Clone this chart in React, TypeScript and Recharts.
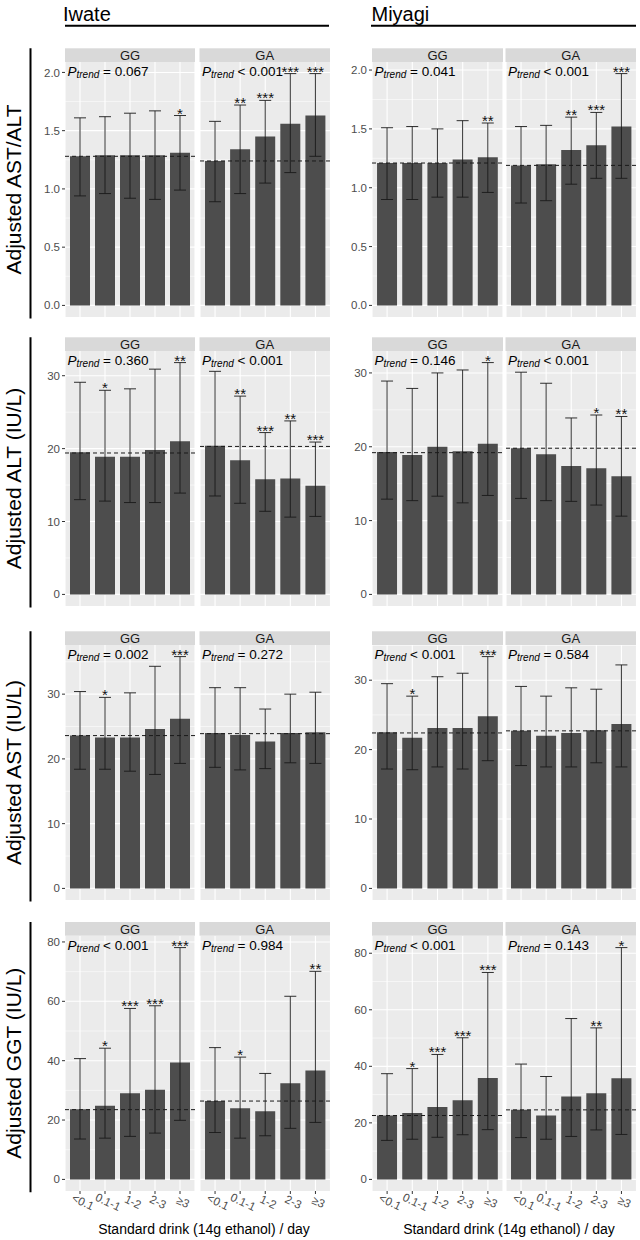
import React from "react";
import { ComposedChart, Bar, ErrorBar, XAxis, YAxis, CartesianGrid, ReferenceLine, Scatter } from "recharts";

const FONT = "'Liberation Sans', Arial, Helvetica, sans-serif";

const categories = ["<0.1", "0.1-1", "1-2", "2-3", "≥3"];
const regionNames = ["Iwate", "Miyagi"];
const genotypes = ["GG", "GA"];
const rowTitles = ["Adjusted AST/ALT", "Adjusted ALT (IU/L)", "Adjusted AST (IU/L)", "Adjusted GGT (IU/L)"];
const xTitle = "Standard drink (14g ethanol) / day";

const ratioTicks = [0, 0.5, 1, 1.5, 2];
const ratioMinor = [0.25, 0.75, 1.25, 1.75];
const altTicks = [0, 10, 20, 30];
const altMinor = [5, 15, 25];
const astTicks = [0, 10, 20, 30];
const astMinor = [5, 15, 25, 35];
const ggtTicks = [0, 20, 40, 60, 80];
const ggtMinor = [10, 30, 50, 70];

// ---- Row 1: AST/ALT ----
const iwRatioGGMean = [1.28, 1.29, 1.29, 1.29, 1.31];
const iwRatioGGLow = [0.94, 0.96, 0.92, 0.91, 0.99];
const iwRatioGGHigh = [1.61, 1.62, 1.65, 1.67, 1.63];
const iwRatioGGStars = ["", "", "", "", "*"];
const iwRatioGGRef = 1.28;
const iwRatioGGP = "= 0.067";

const iwRatioGAMean = [1.24, 1.34, 1.45, 1.56, 1.63];
const iwRatioGALow = [0.89, 0.96, 1.05, 1.14, 1.28];
const iwRatioGAHigh = [1.58, 1.72, 1.76, 1.99, 1.99];
const iwRatioGAStars = ["", "**", "***", "***", "***"];
const iwRatioGARef = 1.24;
const iwRatioGAP = "< 0.001";

const myRatioGGMean = [1.21, 1.21, 1.21, 1.24, 1.26];
const myRatioGGLow = [0.9, 0.9, 0.92, 0.92, 0.96];
const myRatioGGHigh = [1.51, 1.52, 1.5, 1.57, 1.55];
const myRatioGGStars = ["", "", "", "", "**"];
const myRatioGGRef = 1.21;
const myRatioGGP = "= 0.041";

const myRatioGAMean = [1.19, 1.2, 1.32, 1.36, 1.52];
const myRatioGALow = [0.87, 0.89, 1.03, 1.08, 1.08];
const myRatioGAHigh = [1.52, 1.53, 1.6, 1.64, 1.97];
const myRatioGAStars = ["", "", "**", "***", "***"];
const myRatioGARef = 1.19;
const myRatioGAP = "< 0.001";

// ---- Row 2: ALT ----
const iwAltGGMean = [19.5, 18.9, 18.9, 19.8, 21.0];
const iwAltGGLow = [13.0, 12.8, 12.6, 12.6, 13.9];
const iwAltGGHigh = [29.1, 28.0, 28.2, 30.9, 31.8];
const iwAltGGStars = ["", "*", "", "", "**"];
const iwAltGGRef = 19.4;
const iwAltGGP = "= 0.360";

const iwAltGAMean = [20.4, 18.4, 15.8, 15.9, 14.9];
const iwAltGALow = [13.5, 12.5, 11.4, 10.6, 10.7];
const iwAltGAHigh = [30.6, 27.2, 22.2, 23.8, 20.9];
const iwAltGAStars = ["", "**", "***", "**", "***"];
const iwAltGARef = 20.3;
const iwAltGAP = "< 0.001";

const myAltGGMean = [19.3, 18.9, 20.0, 19.4, 20.4];
const myAltGGLow = [12.9, 12.7, 13.3, 12.4, 13.4];
const myAltGGHigh = [28.9, 27.9, 30.0, 30.4, 31.4];
const myAltGGStars = ["", "", "", "", "*"];
const myAltGGRef = 19.2;
const myAltGGP = "= 0.146";

const myAltGAMean = [19.8, 19.0, 17.4, 17.1, 16.0];
const myAltGALow = [13.0, 12.7, 12.6, 12.1, 10.6];
const myAltGAHigh = [30.1, 28.6, 23.9, 24.3, 24.1];
const myAltGAStars = ["", "", "", "*", "**"];
const myAltGARef = 19.8;
const myAltGAP = "< 0.001";

// ---- Row 3: AST ----
const iwAstGGMean = [23.6, 23.3, 23.3, 24.6, 26.2];
const iwAstGGLow = [18.4, 18.4, 18.1, 17.6, 19.3];
const iwAstGGHigh = [30.4, 29.5, 30.2, 34.3, 35.8];
const iwAstGGStars = ["", "*", "", "", "***"];
const iwAstGGRef = 23.6;
const iwAstGGP = "= 0.002";

const iwAstGAMean = [24.0, 23.7, 22.7, 24.0, 24.1];
const iwAstGALow = [18.7, 18.3, 18.5, 19.4, 19.3];
const iwAstGAHigh = [31.0, 31.0, 27.7, 30.0, 30.3];
const iwAstGAStars = ["", "", "", "", ""];
const iwAstGARef = 23.9;
const iwAstGAP = "= 0.272";

const myAstGGMean = [22.5, 21.7, 23.1, 23.1, 24.8];
const myAstGGLow = [17.2, 17.1, 17.5, 17.2, 18.4];
const myAstGGHigh = [29.5, 27.7, 30.5, 31.0, 33.4];
const myAstGGStars = ["", "*", "", "", "***"];
const myAstGGRef = 22.4;
const myAstGGP = "< 0.001";

const myAstGAMean = [22.7, 22.0, 22.4, 22.8, 23.7];
const myAstGALow = [17.7, 17.5, 17.5, 18.1, 17.5];
const myAstGAHigh = [29.1, 27.7, 28.9, 28.7, 32.2];
const myAstGAStars = ["", "", "", "", ""];
const myAstGARef = 22.7;
const myAstGAP = "= 0.584";

// ---- Row 4: GGT ----
const iwGgtGGMean = [23.6, 24.8, 29.0, 30.2, 39.4];
const iwGgtGGLow = [13.6, 13.9, 14.5, 15.6, 19.9];
const iwGgtGGHigh = [40.7, 44.2, 57.6, 58.5, 78.1];
const iwGgtGGStars = ["", "*", "***", "***", "***"];
const iwGgtGGRef = 23.5;
const iwGgtGGP = "< 0.001";

const iwGgtGAMean = [26.4, 24.0, 23.0, 32.4, 36.7];
const iwGgtGALow = [15.8, 13.9, 14.7, 17.2, 19.2];
const iwGgtGAHigh = [44.4, 41.2, 35.7, 61.7, 70.1];
const iwGgtGAStars = ["", "*", "", "", "**"];
const iwGgtGARef = 26.4;
const iwGgtGAP = "= 0.984";

const myGgtGGMean = [22.6, 23.5, 25.6, 28.0, 35.9];
const myGgtGGLow = [13.8, 14.2, 14.9, 15.8, 17.6];
const myGgtGGHigh = [37.4, 39.2, 44.2, 50.1, 73.2];
const myGgtGGStars = ["", "*", "***", "***", "***"];
const myGgtGGRef = 22.6;
const myGgtGGP = "< 0.001";

const myGgtGAMean = [24.6, 22.6, 29.3, 30.5, 35.8];
const myGgtGALow = [14.8, 14.2, 15.2, 17.5, 15.9];
const myGgtGAHigh = [40.8, 36.4, 56.9, 53.6, 82.0];
const myGgtGAStars = ["", "", "", "**", "*"];
const myGgtGARef = 24.6;
const myGgtGAP = "= 0.143";

const rowAxes = [
  { ticks: ratioTicks, minor: ratioMinor, fmt: (v: number) => v.toFixed(1) },
  { ticks: altTicks, minor: altMinor, fmt: (v: number) => String(v) },
  { ticks: astTicks, minor: astMinor, fmt: (v: number) => String(v) },
  { ticks: ggtTicks, minor: ggtMinor, fmt: (v: number) => String(v) },
];

type Spec = { row: number; region: number; geno: number; mean: number[]; low: number[]; high: number[]; stars: string[]; refv: number; p: string };

const specs: Spec[] = [
  { row: 0, region: 0, geno: 0, mean: iwRatioGGMean, low: iwRatioGGLow, high: iwRatioGGHigh, stars: iwRatioGGStars, refv: iwRatioGGRef, p: iwRatioGGP },
  { row: 0, region: 0, geno: 1, mean: iwRatioGAMean, low: iwRatioGALow, high: iwRatioGAHigh, stars: iwRatioGAStars, refv: iwRatioGARef, p: iwRatioGAP },
  { row: 0, region: 1, geno: 0, mean: myRatioGGMean, low: myRatioGGLow, high: myRatioGGHigh, stars: myRatioGGStars, refv: myRatioGGRef, p: myRatioGGP },
  { row: 0, region: 1, geno: 1, mean: myRatioGAMean, low: myRatioGALow, high: myRatioGAHigh, stars: myRatioGAStars, refv: myRatioGARef, p: myRatioGAP },
  { row: 1, region: 0, geno: 0, mean: iwAltGGMean, low: iwAltGGLow, high: iwAltGGHigh, stars: iwAltGGStars, refv: iwAltGGRef, p: iwAltGGP },
  { row: 1, region: 0, geno: 1, mean: iwAltGAMean, low: iwAltGALow, high: iwAltGAHigh, stars: iwAltGAStars, refv: iwAltGARef, p: iwAltGAP },
  { row: 1, region: 1, geno: 0, mean: myAltGGMean, low: myAltGGLow, high: myAltGGHigh, stars: myAltGGStars, refv: myAltGGRef, p: myAltGGP },
  { row: 1, region: 1, geno: 1, mean: myAltGAMean, low: myAltGALow, high: myAltGAHigh, stars: myAltGAStars, refv: myAltGARef, p: myAltGAP },
  { row: 2, region: 0, geno: 0, mean: iwAstGGMean, low: iwAstGGLow, high: iwAstGGHigh, stars: iwAstGGStars, refv: iwAstGGRef, p: iwAstGGP },
  { row: 2, region: 0, geno: 1, mean: iwAstGAMean, low: iwAstGALow, high: iwAstGAHigh, stars: iwAstGAStars, refv: iwAstGARef, p: iwAstGAP },
  { row: 2, region: 1, geno: 0, mean: myAstGGMean, low: myAstGGLow, high: myAstGGHigh, stars: myAstGGStars, refv: myAstGGRef, p: myAstGGP },
  { row: 2, region: 1, geno: 1, mean: myAstGAMean, low: myAstGALow, high: myAstGAHigh, stars: myAstGAStars, refv: myAstGARef, p: myAstGAP },
  { row: 3, region: 0, geno: 0, mean: iwGgtGGMean, low: iwGgtGGLow, high: iwGgtGGHigh, stars: iwGgtGGStars, refv: iwGgtGGRef, p: iwGgtGGP },
  { row: 3, region: 0, geno: 1, mean: iwGgtGAMean, low: iwGgtGALow, high: iwGgtGAHigh, stars: iwGgtGAStars, refv: iwGgtGARef, p: iwGgtGAP },
  { row: 3, region: 1, geno: 0, mean: myGgtGGMean, low: myGgtGGLow, high: myGgtGGHigh, stars: myGgtGGStars, refv: myGgtGGRef, p: myGgtGGP },
  { row: 3, region: 1, geno: 1, mean: myGgtGAMean, low: myGgtGALow, high: myGgtGAHigh, stars: myGgtGAStars, refv: myGgtGARef, p: myGgtGAP },
];

// ---- layout ----
const PANEL_TOPS = [62, 351, 645, 935.7];
const PANEL_H = 255;
const STRIP_H = 13.7;
const X_AXIS_H = 30;
const REGIONS = [
  { panels: [{ left: 65, width: 130 }, { left: 199.5, width: 130.5 }], axisW: 30, headerX: 63, lineX1: 65, lineX2: 329, titleX: 204 },
  { panels: [{ left: 372, width: 131 }, { left: 505.5, width: 130.5 }], axisW: 36, headerX: 371.5, lineX1: 371, lineX2: 636, titleX: 509 },
];

function domainFor(row: number, region: number): [number, number] {
  const all = specs.filter((s) => s.row === row && s.region === region).flatMap((s) => s.high);
  const m = Math.max(...all);
  return [-0.05 * m, 1.05 * m];
}

const starShape = (props: any) => {
  const { cx, cy, payload } = props;
  if (!payload || !payload.star) return <g />;
  return (
    <text x={cx} y={cy + 3} textAnchor="middle" fontSize={15} fill="#111111" stroke="none" fontFamily={FONT}>
      {payload.star}
    </text>
  );
};

const XTick = (props: any) => {
  const { x, y, payload } = props;
  const cx = x + 3;
  const cy = y + 6;
  return (
    <text x={cx} y={cy} textAnchor="middle" dominantBaseline="central" transform={`rotate(25 ${cx} ${cy})`} fontSize={11.5} fill="#4d4d4d" fontFamily={FONT}>
      {payload.value}
    </text>
  );
};

function Panel({ spec }: { spec: Spec }) {
  const reg = REGIONS[spec.region];
  const pl = reg.panels[spec.geno];
  const showY = spec.geno === 0;
  const showX = spec.row === 3;
  const axisW = showY ? reg.axisW : 0;
  const xH = showX ? X_AXIS_H : 0;
  const pad = pl.width / 52;
  const ax = rowAxes[spec.row];
  const domain = domainFor(spec.row, spec.region);
  const data = categories.map((c, i) => ({
    cat: c,
    mean: spec.mean[i],
    err: [spec.mean[i] - spec.low[i], spec.high[i] - spec.mean[i]],
    upper: spec.high[i],
    star: spec.stars[i],
  }));
  const w = pl.width + axisW;
  const h = PANEL_H + xH;
  return (
    <div style={{ position: "absolute", left: pl.left - axisW, top: PANEL_TOPS[spec.row], width: w, height: h }}>
      <ComposedChart width={w} height={h} data={data} margin={{ top: 0, right: 0, bottom: 0, left: 0 }} barCategoryGap="10%">
        <CartesianGrid fill="#ebebeb" fillOpacity={1} stroke="#ffffff" strokeWidth={0.55} horizontalValues={ax.minor} vertical={false} />
        <CartesianGrid stroke="#ffffff" strokeWidth={1.1} horizontalValues={ax.ticks} />
        <XAxis
          dataKey="cat"
          type="category"
          padding={{ left: pad, right: pad }}
          hide={!showX}
          height={showX ? X_AXIS_H : 0}
          tickSize={3}
          tickMargin={2}
          axisLine={false}
          tickLine={{ stroke: "#333333", strokeWidth: 1 }}
          tick={(p: any) => <XTick {...p} />}
          interval={0}
        />
        <YAxis
          type="number"
          domain={domain}
          allowDataOverflow
          ticks={ax.ticks}
          hide={!showY}
          width={showY ? axisW : 0}
          tickSize={3}
          tickMargin={2}
          axisLine={false}
          tickLine={{ stroke: "#333333", strokeWidth: 1 }}
          tick={{ fill: "#4d4d4d", fontSize: 11.5, fontFamily: FONT }}
          tickFormatter={ax.fmt}
          interval={0}
        />
        <Bar dataKey="mean" fill="#4d4d4d" isAnimationActive={false}>
          <ErrorBar dataKey="err" width={6} stroke="#1a1a1a" strokeWidth={0.9} direction="y" />
        </Bar>
        <ReferenceLine y={spec.refv} stroke="#1a1a1a" strokeDasharray="4 3" strokeWidth={1} />
        <Scatter dataKey="upper" fill="none" shape={starShape} isAnimationActive={false} legendType="none" />
      </ComposedChart>
    </div>
  );
}

function Overlay() {
  const items: React.ReactNode[] = [];
  REGIONS.forEach((reg, ri) => {
    items.push(
      <text key={`h${ri}`} x={reg.headerX} y={20.7} fontSize={20} fill="#000" fontFamily={FONT}>
        {regionNames[ri]}
      </text>
    );
    items.push(<line key={`u${ri}`} x1={reg.lineX1} x2={reg.lineX2} y1={25.7} y2={25.7} stroke="#000" strokeWidth={2} />);
    items.push(
      <text key={`xt${ri}`} x={reg.titleX} y={1234} textAnchor="middle" fontSize={14} fill="#000" fontFamily={FONT}>
        {xTitle}
      </text>
    );
  });
  PANEL_TOPS.forEach((top, r) => {
    const cy = top + PANEL_H / 2;
    items.push(
      <text key={`rl${r}`} x={-cy} y={20.7} transform="rotate(-90)" textAnchor="middle" fontSize={21} fill="#000" fontFamily={FONT}>
        {rowTitles[r]}
      </text>
    );
    items.push(<line key={`vl${r}`} x1={30.5} x2={30.5} y1={top - STRIP_H} y2={top + PANEL_H + 1.5} stroke="#000" strokeWidth={2} />);
  });
  specs.forEach((s, i) => {
    const pl = REGIONS[s.region].panels[s.geno];
    const top = PANEL_TOPS[s.row];
    items.push(<rect key={`st${i}`} x={pl.left} y={top - STRIP_H} width={pl.width} height={STRIP_H} fill="#d9d9d9" />);
    items.push(
      <text key={`sl${i}`} x={pl.left + pl.width / 2} y={top - STRIP_H + 11.5} textAnchor="middle" fontSize={13} fill="#1a1a1a" fontFamily={FONT}>
        {genotypes[s.geno]}
      </text>
    );
    items.push(
      <text key={`p${i}`} x={pl.left + 2.5} y={top + 14} fontSize={13.5} fill="#000" fontFamily={FONT}>
        <tspan fontStyle="italic">P</tspan>
        <tspan fontStyle="italic" fontSize={10} dy={2}>trend</tspan>
        <tspan dy={-2}>{" " + s.p}</tspan>
      </text>
    );
  });
  return (
    <svg width={640} height={1240} style={{ position: "absolute", left: 0, top: 0, pointerEvents: "none" }}>
      {items}
    </svg>
  );
}

export default function App() {
  return (
    <div style={{ position: "absolute", left: 0, top: 0, width: 640, height: 1240, background: "#fff", fontFamily: FONT }}>
      {specs.map((s, i) => (
        <Panel key={i} spec={s} />
      ))}
      <Overlay />
    </div>
  );
}
